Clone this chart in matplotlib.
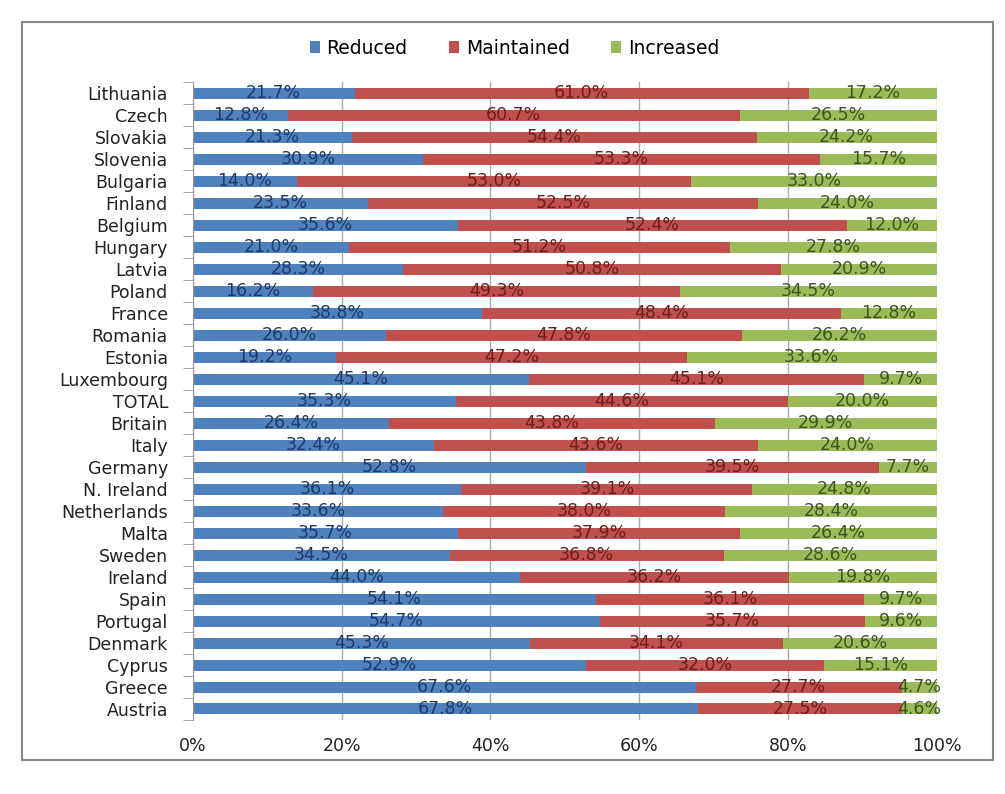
import numpy as np
import matplotlib
matplotlib.use("Agg")
import matplotlib.pyplot as plt
from matplotlib.patches import Rectangle
from matplotlib.ticker import PercentFormatter, FixedLocator

plt.rcParams['font.family'] = ['DejaVu Sans']

# data, top row first
countries = ['Lithuania', 'Czech', 'Slovakia', 'Slovenia', 'Bulgaria', 'Finland',
             'Belgium', 'Hungary', 'Latvia', 'Poland', 'France', 'Romania',
             'Estonia', 'Luxembourg', 'TOTAL', 'Britain', 'Italy', 'Germany',
             'N. Ireland', 'Netherlands', 'Malta', 'Sweden', 'Ireland', 'Spain',
             'Portugal', 'Denmark', 'Cyprus', 'Greece', 'Austria']
reduced = [21.7, 12.8, 21.3, 30.9, 14.0, 23.5, 35.6, 21.0, 28.3, 16.2, 38.8, 26.0,
           19.2, 45.1, 35.3, 26.4, 32.4, 52.8, 36.1, 33.6, 35.7, 34.5, 44.0, 54.1,
           54.7, 45.3, 52.9, 67.6, 67.8]
maintained = [61.0, 60.7, 54.4, 53.3, 53.0, 52.5, 52.4, 51.2, 50.8, 49.3, 48.4, 47.8,
              47.2, 45.1, 44.6, 43.8, 43.6, 39.5, 39.1, 38.0, 37.9, 36.8, 36.2, 36.1,
              35.7, 34.1, 32.0, 27.7, 27.5]
increased = [17.2, 26.5, 24.2, 15.7, 33.0, 24.0, 12.0, 27.8, 20.9, 34.5, 12.8, 26.2,
             33.6, 9.7, 20.0, 29.9, 24.0, 7.7, 24.8, 28.4, 26.4, 28.6, 19.8, 9.7,
             9.6, 20.6, 15.1, 4.7, 4.6]

series = ['Reduced', 'Maintained', 'Increased']
colors = ['#4F81BD', '#C0504D', '#9BBB59']
text_colors = ['#1F3A66', '#6E1E1C', '#3E5420']

vals = np.array([reduced, maintained, increased])
shares = vals / vals.sum(axis=0) * 100  # 100% stacked, like Excel

fig = plt.figure(figsize=(10.05, 7.94), dpi=100)
ax = fig.add_axes([0.192, 0.0932, 0.740, 0.8035])

y = np.arange(len(countries))
left = np.zeros(len(countries))
for i, name in enumerate(series):
    ax.barh(y, shares[i], left=left, height=0.5, color=colors[i], label=name, zorder=2)
    for yy, l, w, v in zip(y, left, shares[i], vals[i]):
        ax.text(l + w / 2, yy, f'{v:.1f}%', ha='center', va='center',
                fontsize=12.5, color=text_colors[i], zorder=3)
    left += shares[i]

ax.set_xlim(0, 100)
ax.set_ylim(len(countries) - 0.5, -0.5)
ax.set_yticks(y)
ax.set_yticklabels(countries, fontsize=12.5, color='#222222')
ax.yaxis.set_minor_locator(FixedLocator(np.arange(-0.5, len(countries), 1)))
ax.tick_params(axis='y', which='major', length=0, pad=18)
ax.tick_params(axis='y', which='minor', length=7, color='#999999')
ax.set_xticks([0, 20, 40, 60, 80, 100])
ax.xaxis.set_major_formatter(PercentFormatter(decimals=0))
ax.tick_params(axis='x', length=0, labelsize=12.5, labelcolor='#222222', pad=12)
ax.grid(axis='x', color='#AAAAAA', linewidth=1, zorder=0)

for s in ['top', 'right', 'bottom']:
    ax.spines[s].set_visible(False)
ax.spines['left'].set_color('#999999')

fig.legend(loc='center', bbox_to_anchor=(0.512, 1 - 48 / 794), ncol=3, frameon=False,
           fontsize=13.5, handlelength=0.55, handleheight=0.55, handletextpad=0.35,
           columnspacing=2.2)

# outer chart frame
fig.patches.append(Rectangle((22 / 1005, 1 - 760 / 794), 971 / 1005, 738 / 794,
                             transform=fig.transFigure, fill=False,
                             edgecolor='#888888', linewidth=1.5))

fig.savefig('out.png', dpi=100)
